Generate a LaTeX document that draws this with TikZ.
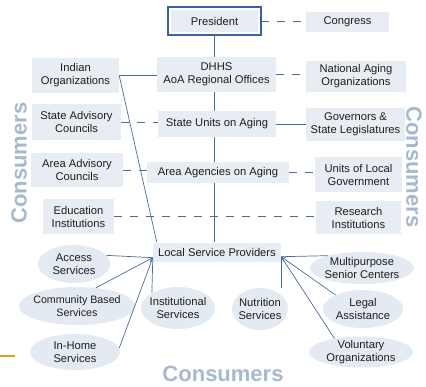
\documentclass[tikz,border=0pt]{standalone}
\usepackage{fontspec}
\setmainfont{Liberation Sans}
\usetikzlibrary{shapes.geometric,arrows.meta}

\definecolor{boxfill}{RGB}{232,237,243}
\definecolor{ellfill}{RGB}{228,234,241}
\definecolor{linkblue}{RGB}{72,108,160}
\definecolor{presblue}{RGB}{58,98,158}
\definecolor{txtgray}{RGB}{30,30,30}
\definecolor{consgray}{RGB}{166,185,207}
\definecolor{slidegold}{RGB}{214,164,30}

\begin{document}
\begin{tikzpicture}[x=1pt,y=-1pt]
\tikzstyle{box}=[rectangle,fill=boxfill,inner sep=0pt,align=center,text=txtgray,font=\fontsize{11.2}{13}\selectfont]
\tikzstyle{oval}=[ellipse,fill=ellfill,inner sep=-3pt,align=center,text=txtgray,font=\fontsize{11.2}{13}\selectfont]
\tikzstyle{link}=[draw=linkblue,line width=0.7pt]
\tikzstyle{dashlink}=[draw=linkblue,line width=0.9pt,dash pattern=on 8pt off 8pt]
\tikzstyle{tip}=[-{Straight Barb[length=4pt,width=5pt]}]
\tikzstyle{consumers}=[text=consgray,inner sep=0pt,font=\fontsize{22}{26}\selectfont\bfseries]
\useasboundingbox (0,0) rectangle (426,386);
%%%%%%%%%%%%%%%%%%%%%%%%%%%%%%%%%%%%%%%%%%%%%%%%%%%%%%%%%%%%%%%%%%%%%%%%%%%%%%%%%%%%%%%%
%% Draw boxes
%%%%%%%%%%%%%%%%%%%%%%%%%%%%%%%%%%%%%%%%%%%%%%%%%%%%%%%%%%%%%%%%%%%%%%%%%%%%%%%%%%%%%%%%
% centre column
\node[box,minimum width=87pt,minimum height=22pt] (pres) at (214.5,21) {President};
\draw[presblue,line width=1.6pt] ([shift={(-3pt,3pt)}]pres.north west) rectangle ([shift={(3pt,-3pt)}]pres.south east);
\node[box,minimum width=119pt,minimum height=35pt] (dhhs) at (216.5,74.5) {DHHS\\AoA Regional Offices};
\node[box,minimum width=118pt,minimum height=26pt] (stunits) at (217,124) {State Units on Aging};
\node[box,minimum width=142pt,minimum height=21pt] (aragen) at (218,172.5) {Area Agencies on Aging};
\node[box,minimum width=128pt,minimum height=19pt] (lsp) at (217,252) {Local Service Providers};

% left column
\node[box,minimum width=87pt,minimum height=35pt] (indian) at (75.5,75.5) {Indian\\Organizations};
\node[box,minimum width=89pt,minimum height=36pt] (stadv) at (76.5,122) {State Advisory\\Councils};
\node[box,minimum width=92pt,minimum height=34pt] (aradv) at (77,170) {Area Advisory\\Councils};
\node[box,minimum width=71pt,minimum height=35pt] (edu) at (78.5,216.5) {Education\\Institutions};

% right column
\node[box,minimum width=83pt,minimum height=20pt] (congress) at (347.5,22) {Congress};
\node[box,minimum width=100pt,minimum height=31pt] (natl) at (356,76.5) {National Aging\\Organizations};
\node[box,minimum width=99pt,minimum height=33pt] (gov) at (355.5,124.5) {Governors \&\\State Legislatures};
\node[box,minimum width=87pt,minimum height=35pt] (units) at (358.5,174.5) {Units of Local\\Government};
\node[box,minimum width=85pt,minimum height=33pt] (research) at (358.5,217.5) {Research\\Institutions};

% services
\node[oval,minimum width=72pt,minimum height=38pt] (access) at (74,264) {Access\\Services};
\node[oval,minimum width=116pt,minimum height=38pt,font=\fontsize{10.7}{13}\selectfont] (community) at (77,306) {Community Based\\Services};
\node[oval,minimum width=90pt,minimum height=36pt] (inhome) at (75,352) {In-Home\\Services};
\node[oval,minimum width=74pt,minimum height=42pt] (inst) at (178,308) {Institutional\\Services};
\node[oval,minimum width=56pt,minimum height=42pt] (nutr) at (260,309) {Nutrition\\Services};
\node[oval,minimum width=104pt,minimum height=32pt] (multi) at (362,268) {Multipurpose\\Senior Centers};
\node[oval,minimum width=80pt,minimum height=38pt] (legal) at (363,309) {Legal\\Assistance};
\node[oval,minimum width=104pt,minimum height=31pt] (volun) at (361,352) {Voluntary\\Organizations};

% consumers
\node[consumers,rotate=90] (consL) at (19,163) {Consumers};
\node[consumers,rotate=-90] (consR) at (414,167) {Consumers};
\node[consumers] (consB) at (223,374) {Consumers};

\draw[slidegold,line width=1.2pt] (0,356) -- (15,356);
%%%%%%%%%%%%%%%%%%%%%%%%%%%%%%%%%%%%%%%%%%%%%%%%%%%%%%%%%%%%%%%%%%%%%%%%%%%%%%%%%%%%%%%%

%%%%%%%%%%%%%%%%%%%%%%%%%%%%%%%%%%%%%%%%%%%%%%%%%%%%%%%%%%%%%%%%%%%%%%%%%%%%%%%%%%%%%%%%
%%% Draw connections
%%%%%%%%%%%%%%%%%%%%%%%%%%%%%%%%%%%%%%%%%%%%%%%%%%%%%%%%%%%%%%%%%%%%%%%%%%%%%%%%%%%%%%%%
\coordinate (presE) at ([xshift=3pt]pres.east);
\coordinate (presS) at ([yshift=-3pt]pres.south);
\draw[link] (presS) -- (presS |- dhhs.north);
\draw[link] (presS |- dhhs.south) -- (presS |- stunits.north);
\draw[link] (presS |- stunits.south) -- (presS |- aragen.north);
\draw[link] (presS |- aragen.south) -- (presS |- lsp.north);

\draw[dashlink] (presE) -- (presE -| congress.west);
\draw[dashlink] (dhhs.east) -- (dhhs.east -| natl.west);
\draw[link] (indian.east) -- (indian.east -| dhhs.west);
\draw[link] (indian.east) -- ([xshift=4pt]lsp.north west);
\draw[dashlink] (stadv.east) -- (stadv.east -| stunits.west);
\draw[link] (stunits.east) -- (stunits.east -| gov.west);
\draw[dashlink] (aradv.east) -- (aradv.east -| aragen.west);
\draw[dashlink] (aragen.east) -- (aragen.east -| units.west);
\draw[dashlink] (edu.east) -- (edu.east -| research.west);

% service providers
\coordinate (lspL) at ([yshift=4pt]lsp.south west);
\coordinate (lspR) at ([yshift=5pt]lsp.south east);
\draw[link] (access.15) -- (lspL);
\draw[link,tip] (community.44) -- (lspL);
\draw[link] (inhome.5) -- (lspL);
\draw[link] (lspL) -- (inst.150);
\draw[link] (lspR) -- (multi.160);
\draw[link] (lspR) -- (lspR |- nutr.north);
\draw[link,tip] (legal.153) -- (lspR);
\draw[link] (lspR) -- (volun.153);
%%%%%%%%%%%%%%%%%%%%%%%%%%%%%%%%%%%%%%%%%%%%%%%%%%%%%%%%%%%%%%%%%%%%%%%%%%%%%%%%%%%%%%%%

\end{tikzpicture}
\end{document}
